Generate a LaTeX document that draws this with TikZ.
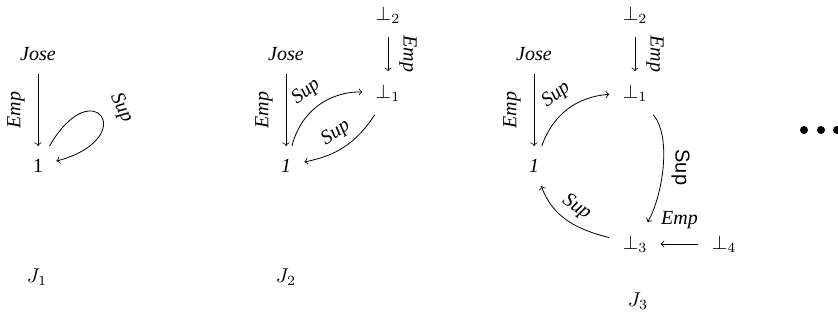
\documentclass[tikz,border=0pt]{standalone}
\usepackage{fontspec}
\setmainfont{Liberation Serif}
\setsansfont{Liberation Sans}
\usetikzlibrary{positioning}
\usetikzlibrary{arrows}

\begin{document}
\begin{tikzpicture}[x=0.5pt, y=0.5pt, vtx/.style={inner sep=6.5pt}, lbl/.style={font=\itshape, inner sep=2pt}]
    \useasboundingbox (0,0) rectangle (838,322);

    % J_1
    \node (jose1) [vtx, font=\itshape] at (38,268) {Jose};
    \node (one1)  [vtx] at (38,156) {1};
    \node (name1) at (37,45) {$J_1$};

    \draw[->] (jose1) -- node[lbl, midway, rotate=90, anchor=south, inner sep=6.5pt] {Emp} (one1);
    \draw[->] (one1) to[out=60, in=15, distance=44pt] node[lbl, pos=0.52, sloped, above=4pt] {Sup} (one1);

    % J_2
    \node (jose2) [vtx, font=\itshape] at (286,268) {Jose};
    \node (one2)  [vtx, font=\itshape] at (286,156) {1};
    \node (bota2) [vtx] at (388,229) {$\bot_1$};
    \node (botb2) [vtx] at (388,307) {$\bot_2$};
    \node (name2) at (286,45) {$J_2$};

    \draw[->] (jose2) -- node[lbl, midway, rotate=90, anchor=south, inner sep=6.5pt] {Emp} (one2);
    \draw[->] (botb2) -- node[lbl, midway, rotate=-90, anchor=south, inner sep=5.5pt] {Emp} (bota2);
    \draw[->] (one2) to[bend left=38] node[lbl, midway, sloped, above=2.5pt] {Sup} (bota2);
    \draw[->] (bota2) to[bend left=23] node[lbl, midway, sloped, above=1.5pt] {Sup} (one2);

    % J_3
    \node (jose3) [vtx, font=\itshape] at (534,268) {Jose};
    \node (one3)  [vtx, font=\itshape] at (534,156) {1};
    \node (bota3) [vtx] at (635,229) {$\bot_1$};
    \node (botb3) [vtx] at (635,307) {$\bot_2$};
    \node (botc3) [vtx] at (635,78) {$\bot_3$};
    \node (botd3) [vtx] at (724,78) {$\bot_4$};
    \node (name3) at (638,21) {$J_3$};

    \draw[->] (jose3) -- node[lbl, midway, rotate=90, anchor=south, inner sep=6.5pt] {Emp} (one3);
    \draw[->] (botb3) -- node[lbl, midway, rotate=-90, anchor=south, inner sep=5.5pt] {Emp} (bota3);
    \draw[->] (one3) to[bend left=33] node[lbl, midway, sloped, above=2.5pt] {Sup} (bota3);
    \draw[->] (bota3) to[out=-50, in=60, looseness=0.7] node[midway, rotate=-90, anchor=south, font=\sffamily, inner sep=4pt] {Sup} (botc3);
    \draw[->] (botc3) to[out=166, in=-70] node[lbl, midway, sloped, above=1.5pt] {Sup} (one3);
    \draw[->] (botd3) -- node[lbl, midway, above=5.6pt] {Emp} (botc3);

    % more
    \foreach \x in {804,821,837}
        \fill (\x,192) circle (2pt);
\end{tikzpicture}
\end{document}
